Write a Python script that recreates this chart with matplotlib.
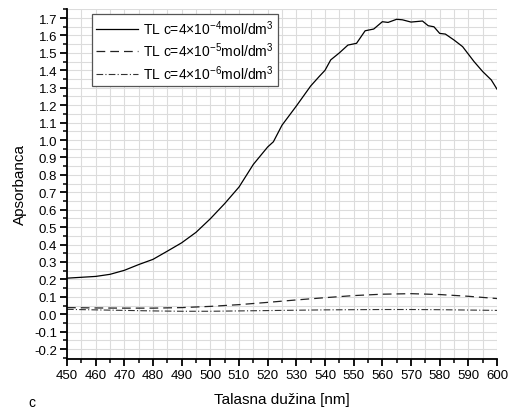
import matplotlib
matplotlib.use("Agg")
import matplotlib.pyplot as plt
from matplotlib.ticker import MultipleLocator

plt.rcParams['font.family'] = ['Liberation Sans', 'DejaVu Sans']
plt.rcParams['mathtext.default'] = 'regular'

wl_main = [450, 455, 460, 465, 470, 475, 480, 485, 490, 495, 500, 505, 510, 515, 520, 522,
           525, 530, 535, 538, 540, 542, 545, 548, 551, 554, 557, 560, 562, 565, 567, 570,
           574, 576, 578, 580, 582, 585, 588, 592, 595, 598, 600]
abs_main = [0.207, 0.212, 0.217, 0.229, 0.252, 0.285, 0.315, 0.362, 0.41, 0.47, 0.548, 0.635,
            0.73, 0.86, 0.96, 0.99, 1.085, 1.195, 1.31, 1.365, 1.40, 1.46, 1.50, 1.545, 1.555,
            1.627, 1.637, 1.679, 1.675, 1.693, 1.690, 1.677, 1.683, 1.656, 1.650, 1.612, 1.608,
            1.574, 1.536, 1.45, 1.393, 1.345, 1.292]

wl_low = [450, 460, 470, 480, 490, 500, 510, 520, 530, 540, 550, 560, 570, 580, 590, 600]
abs_mid = [0.038, 0.036, 0.035, 0.035, 0.038, 0.045, 0.055, 0.068, 0.082, 0.095, 0.107,
           0.115, 0.118, 0.113, 0.103, 0.09]
abs_low = [0.028, 0.025, 0.022, 0.019, 0.017, 0.017, 0.019, 0.021, 0.023, 0.025, 0.026,
           0.027, 0.027, 0.026, 0.024, 0.022]

labels = ['TL c=4×10$^{-4}$mol/dm$^{3}$',
          'TL c=4×10$^{-5}$mol/dm$^{3}$',
          'TL c=4×10$^{-6}$mol/dm$^{3}$']

fig = plt.figure(figsize=(5.1, 4.1), dpi=100)
ax = fig.add_axes([67/510, 1-360/410, 430/510, 350/410])

ax.plot(wl_main, abs_main, color='black', lw=0.9, ls='-', label=labels[0])
ax.plot(wl_low, abs_mid, color='#222222', lw=0.9, ls=(0, (7, 4)), label=labels[1])
ax.plot(wl_low, abs_low, color='#333333', lw=0.8, ls=(0, (6, 2, 1, 2)), label=labels[2])

ax.set_xlim(450, 600)
ax.set_ylim(-0.257, 1.752)
ax.xaxis.set_major_locator(MultipleLocator(10))
ax.xaxis.set_minor_locator(MultipleLocator(5))
ax.yaxis.set_major_locator(MultipleLocator(0.1))
ax.yaxis.set_minor_locator(MultipleLocator(0.05))
ax.yaxis.set_major_formatter(matplotlib.ticker.FuncFormatter(lambda v, p: f"{v:.1f}" if abs(v) > 1e-9 else "0.0"))

ax.grid(True, which='both', color='#dcdcdc', lw=0.8)
ax.set_axisbelow(True)
for s in ['top', 'right']:
    ax.spines[s].set_visible(False)
for s in ['left', 'bottom']:
    ax.spines[s].set_linewidth(1.3)
ax.tick_params(which='major', direction='out', length=5, width=1.3, labelsize=9.5, pad=2)
ax.tick_params(which='minor', direction='out', length=3, width=1.1)

ax.set_xlabel('Talasna dužina [nm]', fontsize=11, labelpad=8)
ax.set_ylabel('Apsorbanca', fontsize=11, labelpad=5)

leg = ax.legend(loc='upper left', bbox_to_anchor=(25/430, 1 - 5/350), fontsize=10,
                frameon=True, fancybox=False, edgecolor='#555555', framealpha=1,
                handlelength=3.0, handletextpad=0.4, borderpad=0.3, labelspacing=0.28,
                borderaxespad=0)
leg.get_frame().set_linewidth(0.9)

fig.text(28/510, 1-407/410, 'c', fontsize=10)

fig.savefig('out.png', dpi=100)
